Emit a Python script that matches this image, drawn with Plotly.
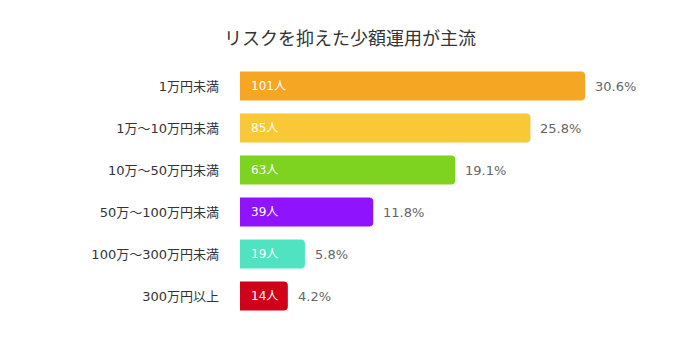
import plotly.graph_objects as go

categories = ["1万円未満", "1万～10万円未満", "10万～50万円未満", "50万～100万円未満", "100万～300万円未満", "300万円以上"]
counts = [101, 85, 63, 39, 19, 14]
percents = [30.6, 25.8, 19.1, 11.8, 5.8, 4.2]
colors = ["#F5A623", "#F8C837", "#7ED321", "#9013FE", "#50E3C2", "#D0021B"]
title = "リスクを抑えた少額運用が主流"

FONT = "DejaVu Sans, Noto Sans CJK JP, sans-serif"
TFONT = "Noto Sans CJK JP, sans-serif"

fig = go.Figure()
fig.add_trace(go.Bar(
    x=counts, y=categories, orientation="h",
    marker=dict(color=colors, cornerradius=4, line=dict(width=0)),
    hoverinfo="skip", showlegend=False,
))

annotations = []
for c, n, p in zip(categories, counts, percents):
    annotations.append(dict(x=0, y=c, xref="x", yref="y", text=f"{n}人", showarrow=False,
                            xanchor="left", xshift=9, font=dict(size=12, color="#ffffff", family=FONT)))
    annotations.append(dict(x=n, y=c, xref="x", yref="y", text=f"{p}%", showarrow=False,
                            xanchor="left", xshift=8, font=dict(size=13, color="#666666", family=FONT)))

fig.update_layout(
    width=700, height=352,
    margin=dict(l=240, r=50, t=65, b=35),
    paper_bgcolor="#ffffff", plot_bgcolor="#ffffff",
    title=dict(text=title, x=0.5, xanchor="center", y=0.89, yanchor="middle",
               font=dict(size=18, color="#333333", family=TFONT)),
    bargap=0.31,
    xaxis=dict(range=[0, 120], visible=False, fixedrange=True),
    yaxis=dict(categoryorder="array", categoryarray=categories, autorange="reversed",
               showgrid=False, zeroline=False, showline=False, ticks="",
               ticklabelstandoff=20,
               tickfont=dict(size=13, color="#333333", family=FONT)),
    annotations=annotations,
    font=dict(family=FONT),
)

fig.write_html("out.html")
